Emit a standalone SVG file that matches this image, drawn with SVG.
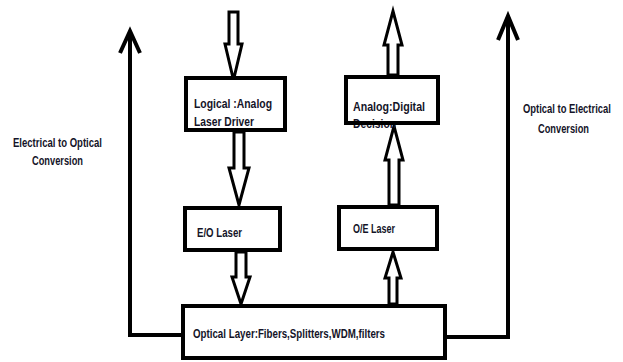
<svg xmlns="http://www.w3.org/2000/svg" width="623" height="362" viewBox="0 0 623 362">
<style>
.box{fill:#fff;stroke:#000;stroke-width:4}
.blk{fill:none;stroke:#000;stroke-width:4;stroke-linejoin:miter}
.ha{fill:#fff;stroke:#000;stroke-width:3;stroke-linejoin:miter}
.t{font-family:"Liberation Sans",Arial,sans-serif;font-size:12.5px;font-weight:bold;fill:#141428}
</style>
<rect width="623" height="362" fill="#fff"/>
<g id="connectors">
<path class="blk" d="M181,335 H130 V31"/>
<polyline class="blk" points="120,53 130,31 140,53"/>
<path class="blk" d="M447,337 H508 V16"/>
<polyline class="blk" points="498,40 508,16 518,40"/>
<polygon class="ha" points="229,12 238,12 238,44 242,44 233.5,80 225,44 229,44"/>
<polygon class="ha" points="234,132 244,132 244,168 249,168 239,205 229,168 234,168"/>
<polygon class="ha" points="236,252 246,252 246,277 250,277 241,304 232,277 236,277"/>
<polygon class="ha" points="389,304 397,304 397,278 401,278 393,252 385,278 389,278"/>
<polygon class="ha" points="389,205 399,205 399,160 403,160 394,126 385,160 389,160"/>
<polygon class="ha" points="388,75 398,75 398,45 402,45 393,11 384,45 388,45"/>
</g>
<g id="logical">
<rect class="box" x="186" y="78" width="99" height="52"/>
<text class="t" x="194" y="108" textLength="78" lengthAdjust="spacingAndGlyphs">Logical :Analog</text>
<text class="t" x="194" y="126" textLength="60" lengthAdjust="spacingAndGlyphs">Laser Driver</text>
</g>
<g id="analog">
<rect class="box" x="346" y="77" width="92" height="46"/>
<text class="t" x="353" y="111" textLength="72" lengthAdjust="spacingAndGlyphs">Analog:Digital</text>
<text class="t" x="353" y="128" textLength="43" lengthAdjust="spacingAndGlyphs">Decision</text>
<rect x="346" y="77" width="92" height="46" fill="none" stroke="#000" stroke-width="4"/>
</g>
<g id="eo">
<rect class="box" x="185" y="208" width="95" height="42"/>
<text class="t" x="197" y="237" textLength="45" lengthAdjust="spacingAndGlyphs">E/O Laser</text>
</g>
<g id="oe">
<rect class="box" x="339" y="207" width="98" height="42"/>
<text class="t" x="353" y="233" textLength="42" lengthAdjust="spacingAndGlyphs">O/E Laser</text>
</g>
<g id="optical">
<rect class="box" x="183" y="306" width="262" height="52"/>
<text class="t" x="193" y="338" textLength="192" lengthAdjust="spacingAndGlyphs">Optical Layer:Fibers,Splitters,WDM,filters</text>
</g>
<g id="label-left">
<text class="t" x="13" y="147" textLength="89" lengthAdjust="spacingAndGlyphs">Electrical to Optical</text>
<text class="t" x="32" y="165" textLength="51" lengthAdjust="spacingAndGlyphs">Conversion</text>
</g>
<g id="label-right">
<text class="t" transform="translate(523,113) scale(0.72,1)" x="0" y="0" textLength="122" lengthAdjust="spacingAndGlyphs">Optical to Electrical</text>
<text class="t" x="538" y="133" textLength="51" lengthAdjust="spacingAndGlyphs">Conversion</text>
</g>
</svg>
